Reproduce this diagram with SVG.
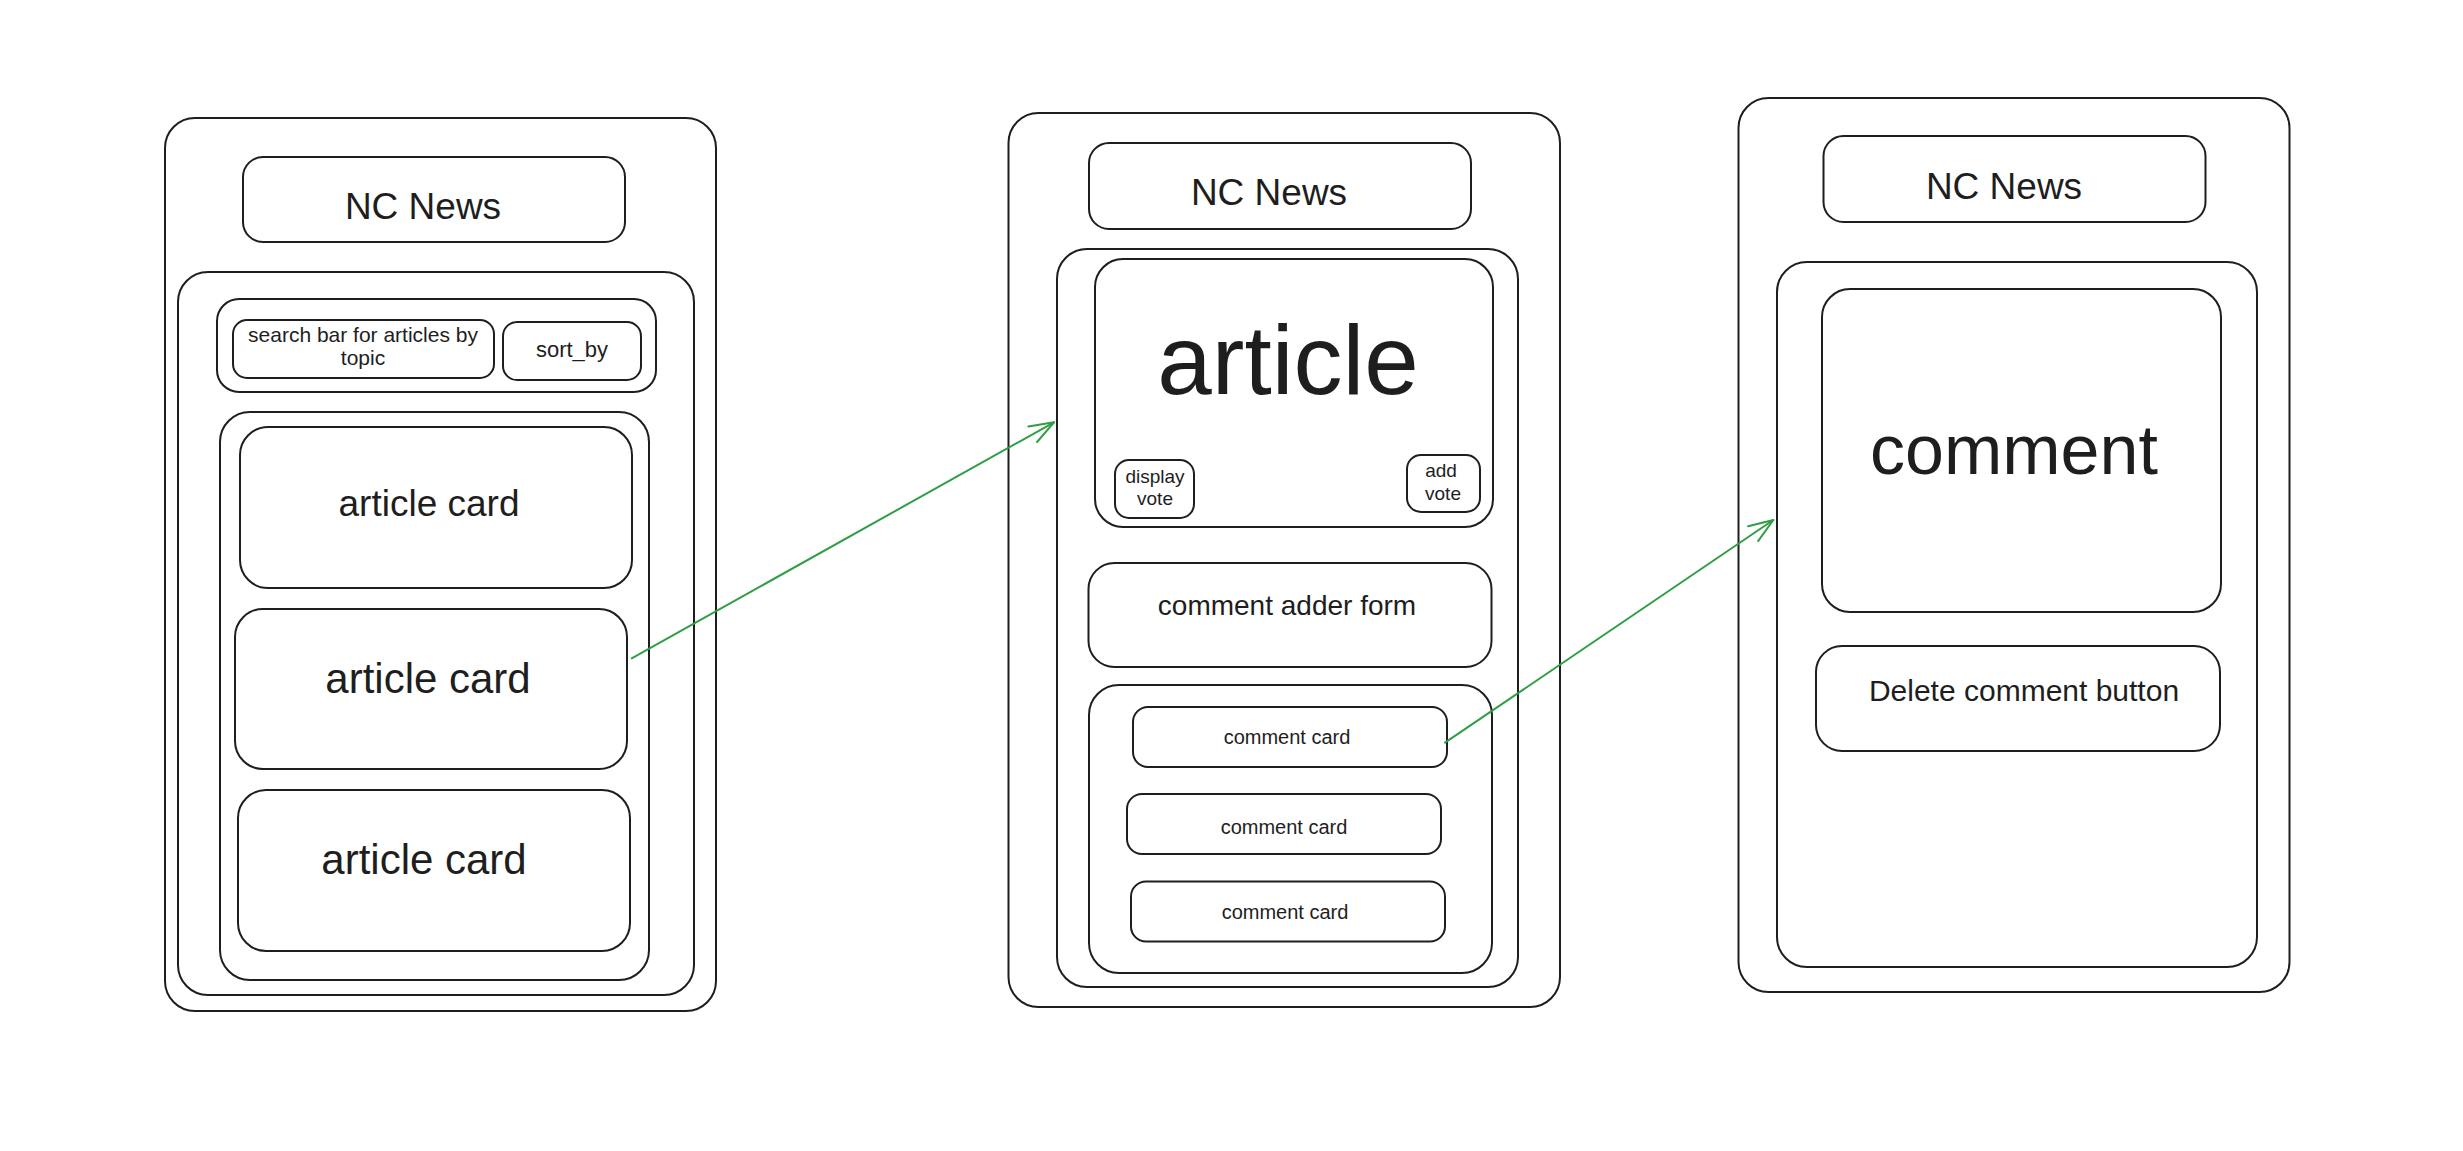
<svg xmlns="http://www.w3.org/2000/svg" width="2463" height="1151" viewBox="0 0 2463 1151">
  <style>
    .box { fill: none; stroke: #1e1e1e; stroke-width: 2; }
    .lbl { font-family: "Liberation Sans", "DejaVu Sans", sans-serif; fill: #1e1e1e; text-anchor: middle; }
    .link { fill: none; stroke: #2f9e44; stroke-width: 2; stroke-linecap: round; }
  </style>
  <defs>
    <marker id="open-arrow" markerWidth="30" markerHeight="30" refX="0" refY="0" orient="auto" markerUnits="userSpaceOnUse" overflow="visible">
      <path d="M-24.4,-8.9 L0,0 L-24.4,8.9" fill="none" stroke="#2f9e44" stroke-width="2" stroke-linecap="round" stroke-linejoin="round"/>
    </marker>
  </defs>
  <rect width="2463" height="1151" fill="#ffffff"/>

  <!-- Screen 1: article list -->
  <g id="screen-home">
    <rect class="box" x="165" y="118" width="551" height="893" rx="30"/>
  </g>
  <g id="home-header">
    <rect class="box" x="243" y="157" width="382" height="85" rx="20"/>
    <text class="lbl" x="423" y="219" font-size="37">NC News</text>
  </g>
  <g id="home-body">
    <rect class="box" x="178" y="272" width="516" height="723" rx="30"/>
  </g>
  <g id="home-toolbar">
    <rect class="box" x="217" y="299" width="439" height="93" rx="22"/>
  </g>
  <g id="home-search">
    <rect class="box" x="233" y="320" width="261" height="58" rx="14"/>
    <text class="lbl" x="363" y="342" font-size="21">search bar for articles by</text>
    <text class="lbl" x="363" y="365" font-size="21">topic</text>
  </g>
  <g id="home-sort">
    <rect class="box" x="503" y="322" width="138" height="58" rx="14"/>
    <text class="lbl" x="572" y="357" font-size="22">sort_by</text>
  </g>
  <g id="home-list">
    <rect class="box" x="220" y="412" width="429" height="568" rx="30"/>
  </g>
  <g id="article-card-1">
    <rect class="box" x="240" y="427" width="392" height="161" rx="28"/>
    <text class="lbl" x="429" y="516" font-size="37">article card</text>
  </g>
  <g id="article-card-2">
    <rect class="box" x="235" y="609" width="392" height="160" rx="28"/>
    <text class="lbl" x="428" y="693" font-size="42">article card</text>
  </g>
  <g id="article-card-3">
    <rect class="box" x="238" y="790" width="392" height="161" rx="28"/>
    <text class="lbl" x="424" y="874" font-size="42">article card</text>
  </g>

  <!-- Screen 2: single article -->
  <g id="screen-article">
    <rect class="box" x="1008.5" y="113" width="551.5" height="894" rx="30"/>
  </g>
  <g id="article-header">
    <rect class="box" x="1089" y="143" width="382" height="86" rx="20"/>
    <text class="lbl" x="1269" y="205" font-size="37">NC News</text>
  </g>
  <g id="article-body">
    <rect class="box" x="1057" y="249" width="461" height="738" rx="30"/>
  </g>
  <g id="article-main">
    <rect class="box" x="1095" y="259" width="398" height="268" rx="28"/>
    <text class="lbl" x="1288" y="394" font-size="98">article</text>
  </g>
  <g id="display-vote">
    <rect class="box" x="1115" y="460" width="79" height="58" rx="14"/>
    <text class="lbl" x="1155" y="483" font-size="19">display</text>
    <text class="lbl" x="1155" y="505" font-size="19">vote</text>
  </g>
  <g id="add-vote">
    <rect class="box" x="1407" y="455" width="73" height="57" rx="14"/>
    <text class="lbl" x="1441" y="477" font-size="19">add</text>
    <text class="lbl" x="1443" y="500" font-size="19">vote</text>
  </g>
  <g id="comment-adder">
    <rect class="box" x="1088.5" y="563" width="403" height="104" rx="26"/>
    <text class="lbl" x="1287" y="615" font-size="28">comment adder form</text>
  </g>
  <g id="comment-list">
    <rect class="box" x="1089" y="685" width="403" height="288" rx="30"/>
  </g>
  <g id="comment-card-1">
    <rect class="box" x="1133" y="707" width="314" height="60" rx="15"/>
    <text class="lbl" x="1287" y="744" font-size="20">comment card</text>
  </g>
  <g id="comment-card-2">
    <rect class="box" x="1127" y="794" width="314" height="60" rx="15"/>
    <text class="lbl" x="1284" y="834" font-size="20">comment card</text>
  </g>
  <g id="comment-card-3">
    <rect class="box" x="1131" y="881.5" width="314" height="60" rx="15"/>
    <text class="lbl" x="1285" y="919" font-size="20">comment card</text>
  </g>

  <!-- Screen 3: single comment -->
  <g id="screen-comment">
    <rect class="box" x="1738.5" y="98" width="551" height="894" rx="30"/>
  </g>
  <g id="comment-header">
    <rect class="box" x="1823.5" y="136" width="382" height="86" rx="20"/>
    <text class="lbl" x="2004" y="199" font-size="37">NC News</text>
  </g>
  <g id="comment-body">
    <rect class="box" x="1777" y="262" width="480" height="705" rx="30"/>
  </g>
  <g id="comment-main">
    <rect class="box" x="1822" y="289" width="399" height="323" rx="28"/>
    <text class="lbl" x="2014" y="474" font-size="70">comment</text>
  </g>
  <g id="delete-button">
    <rect class="box" x="1816" y="646" width="404" height="105" rx="26"/>
    <text class="lbl" x="2024" y="701" font-size="30">Delete comment button</text>
  </g>

  <!-- Navigation links between screens -->
  <g id="connectors">
    <path class="link" d="M631.7,658.3 L1054,422.3" marker-end="url(#open-arrow)"/>
    <path class="link" d="M1445,742.7 L1773.3,520" marker-end="url(#open-arrow)"/>
  </g>
</svg>
